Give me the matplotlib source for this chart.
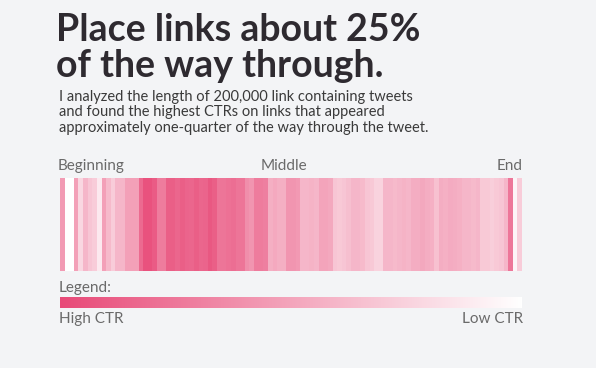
"""Link position vs CTR strip: where in a tweet links get the most clicks."""

import matplotlib

matplotlib.use("Agg")
import matplotlib.pyplot as plt  # noqa: E402
import numpy as np  # noqa: E402
from matplotlib.colors import LinearSegmentedColormap  # noqa: E402

# relative CTR (0 = low, 1 = high) for each 1% slice of tweet position
position_pct = np.arange(100)
ctr = [
    0.55, 0.00, 0.00, 0.52, 0.22, 0.40, 0.32, 0.28, 0.12, 0.52,
    0.38, 0.28, 0.40, 0.40, 0.52, 0.52, 0.52, 0.82, 0.95, 0.95,
    0.90, 0.72, 0.72, 0.88, 0.88, 0.84, 0.88, 0.85, 0.84, 0.88,
    0.84, 0.85, 0.92, 0.88, 0.76, 0.76, 0.78, 0.80, 0.76, 0.76,
    0.62, 0.58, 0.72, 0.72, 0.70, 0.44, 0.47, 0.44, 0.44, 0.58,
    0.58, 0.56, 0.40, 0.40, 0.42, 0.40, 0.50, 0.50, 0.48, 0.32,
    0.30, 0.32, 0.35, 0.40, 0.40, 0.38, 0.32, 0.30, 0.24, 0.24,
    0.40, 0.40, 0.38, 0.40, 0.42, 0.40, 0.45, 0.45, 0.48, 0.45,
    0.43, 0.34, 0.45, 0.43, 0.46, 0.45, 0.43, 0.40, 0.40, 0.38,
    0.40, 0.30, 0.30, 0.27, 0.30, 0.32, 0.40, 0.75, 0.06, 0.28,
]
position_labels = ["Beginning", "Middle", "End"]
legend_labels = ["High CTR", "Low CTR"]

TITLE = "Place links about 25%\nof the way through."
BODY = [
    "I analyzed the length of 200,000 link containing tweets",
    "and found the highest CTRs on links that appeared",
    "approximately one-quarter of the way through the tweet.",
]

BG = "#f3f4f6"
C_TITLE = "#2e2a30"
C_BODY = "#3a3a3a"
C_LABEL = "#6a6a6a"
cmap = LinearSegmentedColormap.from_list("ctr", ["#ffffff", "#e84a78"])

W, H = 596, 368
fig = plt.figure(figsize=(W / 100, H / 100), dpi=100, facecolor=BG)
plt.rcParams["font.family"] = ["Lato", "DejaVu Sans"]


def px(x, y):
    """pixel position (from top-left) -> figure fraction"""
    return x / W, 1 - y / H


fig.text(*px(56, 48), TITLE, fontsize=27, fontweight="bold", color=C_TITLE,
         va="center", ha="left", linespacing=1.05)
for i, line in enumerate(BODY):
    fig.text(*px(59, 97 + i * 15.5), line, fontsize=10.5, color=C_BODY,
             va="center", ha="left")

# main strip
x0, x1 = 60, 522
ax = fig.add_axes([x0 / W, (H - 271) / H, (x1 - x0) / W, 93 / H])
ax.imshow(np.array(ctr)[None, :], aspect="auto", cmap=cmap, vmin=0, vmax=1,
          extent=(position_pct[0], position_pct[-1] + 1, 0, 1),
          interpolation="nearest")
ax.set_axis_off()

fig.text(*px(x0 - 2, 166), position_labels[0], fontsize=11, color=C_LABEL,
         va="center", ha="left")
fig.text(*px(284, 166), position_labels[1], fontsize=11,
         color=C_LABEL, va="center", ha="center")
fig.text(*px(x1 + 1, 166), position_labels[2], fontsize=11, color=C_LABEL,
         va="center", ha="right")

# legend gradient, high on the left
fig.text(*px(x0 - 1, 288), "Legend:", fontsize=11, color=C_LABEL,
         va="center", ha="left")
lax = fig.add_axes([x0 / W, (H - 308) / H, (x1 - x0) / W, 11 / H])
lax.imshow(np.linspace(1, 0, 256)[None, :], aspect="auto", cmap=cmap,
           vmin=0, vmax=1)
lax.set_axis_off()
fig.text(*px(x0 - 1, 319), legend_labels[0], fontsize=11, color=C_LABEL,
         va="center", ha="left")
fig.text(*px(x1 + 1, 319), legend_labels[1], fontsize=11, color=C_LABEL,
         va="center", ha="right")

fig.savefig("out.png", dpi=100, facecolor=BG)
